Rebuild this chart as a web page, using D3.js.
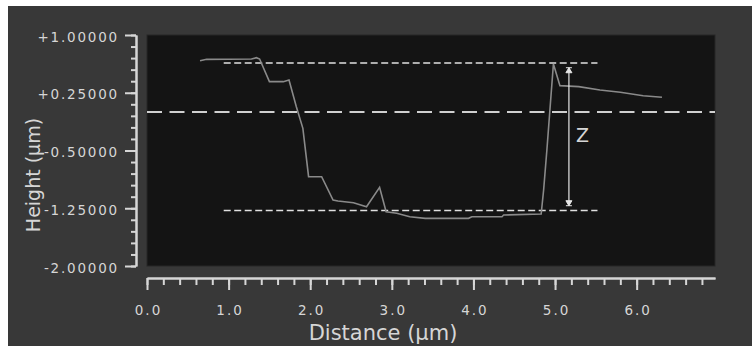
<!DOCTYPE html>
<html>
<head>
<meta charset="utf-8">
<script src="https://cdn.jsdelivr.net/npm/d3@7"></script>
<style>
  body { margin: 0; background: #ffffff; }
  svg { display: block; }
  text { font-family: "DejaVu Sans", sans-serif; fill: #d6d6d6; }
</style>
</head>
<body>
<svg id="chart" width="752" height="346"></svg>
<script>
// profile trace (distance in µm, height in µm)
const profileX = [0.65, 0.73, 1.28, 1.34, 1.38, 1.50, 1.67, 1.74, 1.83, 1.91, 1.98, 2.14, 2.28, 2.34,
                  2.53, 2.69, 2.85, 2.93, 3.06, 3.22, 3.41, 3.94, 3.98, 4.35, 4.37, 4.83, 4.86, 4.90,
                  4.94, 4.98, 5.06, 5.29, 5.55, 5.80, 6.08, 6.31];
const profileZ = [0.666, 0.684, 0.688, 0.705, 0.688, 0.394, 0.394, 0.416, 0.069, -0.212, -0.840, -0.840,
                  -1.143, -1.156, -1.178, -1.230, -0.978, -1.295, -1.316, -1.360, -1.381, -1.381, -1.360,
                  -1.360, -1.338, -1.325, -1.013, -0.494, 0.069, 0.623, 0.342, 0.329, 0.286, 0.256, 0.212, 0.191];

const xTicks = [0, 1, 2, 3, 4, 5, 6];
const yTicks = [1.0, 0.25, -0.5, -1.25, -2.0];
const xMinor = d3.range(0, 35).map(i => i * 0.2);
const yMinor = d3.range(0, 21).map(i => 1 - i * 0.15);

// reference lines
const zeroLevel = 0.0;
const upperLevel = 0.635;
const lowerLevel = -1.28;
const markerStart = 0.94, markerEnd = 5.52;
const zArrowX = 5.17, zTop = 0.575, zBottom = -1.217;

const svg = d3.select("#chart");

const plotL = 147, plotR = 715, plotT = 35, plotB = 266;
const x = d3.scaleLinear().domain([0, 6.96]).range([plotL, plotR]);
const y = d3.scaleLinear().domain([-2, 1]).range([plotB, plotT]);

// panel + plot area
svg.append("rect").attr("x", 8).attr("y", 6).attr("width", 744).attr("height", 340).attr("fill", "#383838");
svg.append("rect").attr("x", plotL).attr("y", plotT).attr("width", plotR - plotL).attr("height", plotB - plotT)
   .attr("fill", "#141414").attr("stroke", "#262626");

// x axis (minor then major)
const xAxisY = 278;
svg.append("g").attr("transform", `translate(0,${xAxisY})`)
   .call(d3.axisBottom(x).tickValues(xMinor).tickSize(7).tickSizeOuter(0).tickFormat(""))
   .call(g => g.selectAll("line, path").attr("stroke", "#d6d6d6").attr("stroke-width", 2));
svg.append("g").attr("transform", `translate(0,${xAxisY})`)
   .call(d3.axisBottom(x).tickValues(xTicks).tickSize(12).tickSizeOuter(0).tickFormat(d => d.toFixed(1)))
   .call(g => g.selectAll("line, path").attr("stroke", "#d6d6d6").attr("stroke-width", 2))
   .call(g => g.selectAll("text").attr("fill", "#d6d6d6").attr("font-size", 13.5)
      .attr("letter-spacing", "2px").attr("font-family", "DejaVu Sans").attr("y", 37).attr("dy", 0).attr("dx", 1));

// y axis
const yAxisX = 136;
svg.append("g").attr("transform", `translate(${yAxisX},0)`)
   .call(d3.axisLeft(y).tickValues(yMinor).tickSize(5).tickSizeOuter(0).tickFormat(""))
   .call(g => g.selectAll("line, path").attr("stroke", "#d6d6d6").attr("stroke-width", 2));
svg.append("g").attr("transform", `translate(${yAxisX},0)`)
   .call(d3.axisLeft(y).tickValues(yTicks).tickSize(11).tickSizeOuter(0)
      .tickFormat(d => (d >= 0 ? "+" : "-") + Math.abs(d).toFixed(5)))
   .call(g => g.selectAll("line, path").attr("stroke", "#d6d6d6").attr("stroke-width", 2))
   .call(g => g.selectAll("text").attr("fill", "#d6d6d6").attr("font-size", 13.5)
      .attr("letter-spacing", "1.8px").attr("font-family", "DejaVu Sans").attr("x", -17).attr("dy", "0.45em"));

// axis titles
svg.append("text").attr("x", 383).attr("y", 340).attr("text-anchor", "middle")
   .attr("font-size", 21).text("Distance (µm)");
svg.append("text").attr("transform", "translate(40,175) rotate(-90)").attr("text-anchor", "middle")
   .attr("font-size", 19).text("Height (µm)");

// zero line
svg.append("line").attr("x1", plotL).attr("x2", plotR).attr("y1", y(zeroLevel)).attr("y2", y(zeroLevel))
   .attr("stroke", "#d0d0d0").attr("stroke-width", 2).attr("stroke-dasharray", "15,7.5");

// step markers
[upperLevel, lowerLevel].forEach(v => {
  svg.append("line").attr("x1", x(markerStart)).attr("x2", x(markerEnd)).attr("y1", y(v)).attr("y2", y(v))
     .attr("stroke", "#e0e0e0").attr("stroke-width", 1.5).attr("stroke-dasharray", "7,3.5");
});

// profile
const line = d3.line().x((d, i) => x(profileX[i])).y(d => y(d));
svg.append("path").datum(profileZ).attr("d", line)
   .attr("fill", "none").attr("stroke", "#8a8a8a").attr("stroke-width", 1.6);

// Z arrow
const ax = x(zArrowX), at = y(zTop), ab = y(zBottom);
svg.append("line").attr("x1", ax).attr("x2", ax).attr("y1", at).attr("y2", ab)
   .attr("stroke", "#e6e6e6").attr("stroke-width", 1.2);
svg.append("path")
   .attr("d", `M${ax - 3},${at}H${ax + 3}M${ax},${at}L${ax - 3},${at + 5}H${ax + 3}Z` +
              `M${ax - 3},${ab}H${ax + 3}M${ax},${ab}L${ax - 3},${ab - 5}H${ax + 3}Z`)
   .attr("fill", "#e6e6e6").attr("stroke", "#e6e6e6").attr("stroke-width", 1);
svg.append("text").attr("x", ax + 7).attr("y", 142).attr("font-size", 19)
   .attr("font-family", "DejaVu Sans Condensed, DejaVu Sans").attr("fill", "#e6e6e6").text("Z");
</script>
</body>
</html>
